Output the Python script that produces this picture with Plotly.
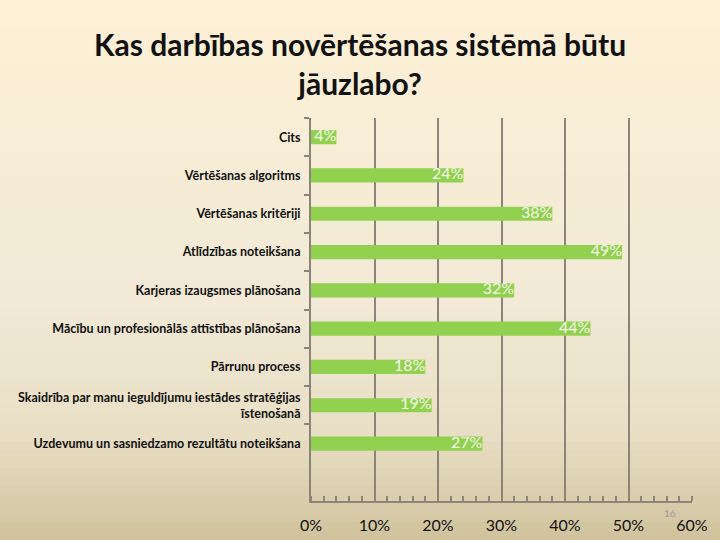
import plotly.graph_objects as go

categories = [
    "Cits",
    "Vērtēšanas algoritms",
    "Vērtēšanas kritēriji",
    "Atlīdzības noteikšana",
    "Karjeras izaugsmes plānošana",
    "Mācību un profesionālās attīstības plānošana",
    "Pārrunu process",
    "Skaidrība par manu ieguldījumu iestādes stratēģijas<br>īstenošanā",
    "Uzdevumu un sasniedzamo rezultātu noteikšana",
]
values = [4, 24, 38, 49, 32, 44, 18, 19, 27]
value_labels = [f"{v}%" for v in values]
x_tickvals = [0, 10, 20, 30, 40, 50, 60]
x_ticktext = [f"{v}%" for v in x_tickvals]

W, H = 720, 540
L, R, T, B = 311, 28, 118, 39

fig = go.Figure()
fig.add_trace(go.Bar(
    x=values, y=categories, orientation="h",
    marker=dict(color="#92D050", line=dict(width=0)),
    width=0.37, hoverinfo="skip",
))
fig.add_trace(go.Scatter(
    x=values, y=categories, mode="text", text=value_labels,
    textposition="middle left",
    textfont=dict(family="Lato", size=16, color="#F4F9E8"),
    cliponaxis=False, hoverinfo="skip",
))

# gradient background
stops = [(0.0, (253, 240, 213)), (0.55, (242, 234, 215)), (0.8, (233, 223, 197)), (1.0, (207, 194, 156))]
def col(t):
    for (t0, c0), (t1, c1) in zip(stops[:-1], stops[1:]):
        if t0 <= t <= t1:
            f = (t - t0) / (t1 - t0)
            return "rgb(%d,%d,%d)" % tuple(round(a + (b - a) * f) for a, b in zip(c0, c1))
    return "rgb(%d,%d,%d)" % stops[-1][1]

ph = H - T - B
pw = W - L - R
n = 60
shapes = []
for i in range(n):
    py0 = H * i / n
    py1 = H * (i + 1) / n + 1
    y0 = (H - B - py1) / ph
    y1 = (H - B - py0) / ph
    shapes.append(dict(type="rect", xref="paper", yref="paper",
                       x0=-L / pw - 0.05, x1=(W - L) / pw + 0.05,
                       y0=y0, y1=y1, fillcolor=col((i + 0.5) / n),
                       line=dict(width=0), layer="below"))

fig.update_layout(
    width=W, height=H,
    margin=dict(l=L, r=R, t=T, b=B, autoexpand=False),
    paper_bgcolor="rgb(207,194,156)",
    plot_bgcolor="rgba(0,0,0,0)",
    showlegend=False,
    bargap=0.63,
    shapes=shapes,
    font=dict(family="Lato", color="#111111"),
    annotations=[
        dict(
            text="Kas darbības novērtēšanas sistēmā būtu<br>jāuzlabo?",
            xref="paper", yref="paper",
            x=(360 - L) / pw, y=(H - B - 24) / ph,
            xanchor="center", yanchor="top", align="center",
            showarrow=False,
            font=dict(family="Lato", size=30, color="#111111", weight="bold"),
        ),
        dict(
            text="16", xref="paper", yref="paper",
            x=(670 - L) / pw, y=(H - B - 513) / ph,
            xanchor="center", yanchor="middle",
            showarrow=False, font=dict(family="Lato", size=10, color="#9A9A9A"),
        ),
    ],
)

fig.update_xaxes(
    range=[0, 60], tickvals=x_tickvals, ticktext=x_ticktext,
    showgrid=True, gridcolor="#8C8478", gridwidth=2,
    showline=True, linecolor="#8C8478", linewidth=2,
    ticks="", tickfont=dict(family="Lato", size=16, color="#111111"),
    minor=dict(dtick=2, ticks="inside", ticklen=5, tickcolor="#8C8478", tickwidth=2, showgrid=False),
    zeroline=False, fixedrange=True, ticklabelstandoff=9, automargin=False,
)
fig.update_yaxes(
    type="category", categoryorder="array", categoryarray=categories,
    range=[9.5, -0.5],
    showgrid=False, showline=True, linecolor="#8C8478", linewidth=2,
    ticks="outside", tickson="boundaries", ticklen=5, tickcolor="#8C8478", tickwidth=2,
    tickfont=dict(family="Lato", size=12.5, color="#111111", weight="bold"),
    ticklabelstandoff=6, zeroline=False, fixedrange=True, automargin=False,
)

fig.write_html("out.html", config={"displayModeBar": False},
               post_script="document.body.style.margin='0';")
